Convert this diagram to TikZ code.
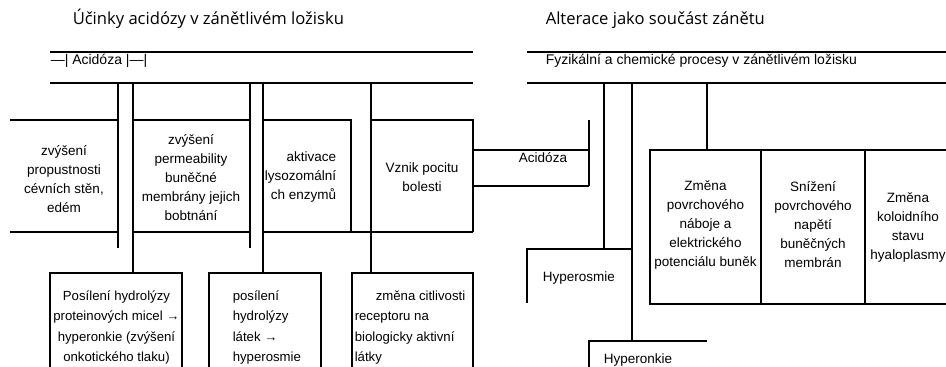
\documentclass[tikz,border=0pt]{standalone}
\usepackage{fontspec}
\setmainfont{Liberation Sans}
\newfontfamily\titlefont{Open Sans}
\begin{document}
\begin{tikzpicture}[x=1pt,y=-1pt,line width=1.5pt,
  hdr/.style={inner sep=0pt,anchor=west,font=\fontsize{14}{19}\selectfont},
  txt/.style={inner sep=0pt,font=\fontsize{13.5}{19}\selectfont,align=center},
  txtb/.style={inner sep=0pt,font=\fontsize{13.2}{20.5}\selectfont},
  ttl/.style={inner sep=0pt,anchor=west,font=\titlefont\fontsize{16.6}{20}\selectfont}]
\clip (0,0) rectangle (946,367);
\fill[white] (0,0) rectangle (946,367);
% titles
\node[ttl] (t1) at (72,19) {Účinky acidózy v zánětlivém ložisku};
\node[ttl] (t2) at (545,20) {Alterace jako součást zánětu};
% headers
\draw (50,52) -- (473,52); \draw (50,83) -- (473,83);
\draw (527,52) -- (946,52); \draw (527,83) -- (946,83);
\node[hdr] (h1) at (50,61) {—| Acidóza |—|};
\node[hdr] (h2) at (545,61) {Fyzikální a chemické procesy v zánětlivém ložisku};
% verticals
\draw (118,83) -- (118,248);
\draw (133,83) -- (133,273);
\draw (250,83) -- (250,248);
\draw (263,83) -- (263,273);
\draw (371,83) -- (371,273);
\draw (604,83) -- (604,249);
\draw (632,83) -- (632,341);
\draw (707,83) -- (707,150);
% row boxes
\draw (10,120) -- (118,120); \draw (10,232) -- (118,232);
\draw (133,120) -- (250,120); \draw (133,232) -- (250,232);
\draw (263,120) -- (351,120) -- (351,232);
\draw (263,232) -- (473,232);
\draw (371,120) -- (473,120) -- (473,232);
\node[txt] (b1) at (64,179) {zvýšení\\propustnosti\\cévních stěn,\\edém};
\node[txt] (b2) at (191,178) {zvýšení\\permeability\\buněčné\\membrány jejich\\bobtnání};
\node[txt,align=right,anchor=east] (b3) at (337,177) {aktivace\\lysozomální\\ch enzymů};
\node[txt] (b4) at (422,177) {Vznik pocitu\\bolesti};
% acidoza
\draw (473,150) -- (589,150); \draw (473,186) -- (589,186); \draw (589,120) -- (589,186);
\node[txt] (ac) at (543,158) {Acidóza};
% bottom boxes
\draw (50,367) -- (50,273) -- (182,273) -- (182,367);
\draw (209,367) -- (209,273) -- (321,273) -- (321,367);
\draw (352,367) -- (352,273) -- (473,273) -- (473,367);
\node[txtb,align=center] (ba) at (116.5,327.5) {Posílení hydrolýzy\\proteinových micel →\\hyperonkie (zvýšení\\onkotického tlaku)};
\node[txtb,align=left,anchor=west] (bb) at (232,327.5) {posílení\\hydrolýzy\\látek →\\hyperosmie};
\node[txtb,align=left,anchor=west] (bc) at (354,327.5) {\hspace*{21pt}změna citlivosti\\receptoru na\\biologicky aktivní\\látky};
% right boxes
\draw (650,150) rectangle (960,304);
\draw (761,150) -- (761,304); \draw (865,150) -- (865,304);
\node[txt] (r1) at (705.5,225) {Změna\\povrchového\\náboje a\\elektrického\\potenciálu buněk};
\node[txt] (r2) at (813,225) {Snížení\\povrchového\\napětí\\buněčných\\membrán};
\node[txt] (r3) at (908,227) {Změna\\koloidního\\stavu\\hyaloplasmy};
% hyperosmie / hyperonkie
\draw (527,303) -- (527,249) -- (632,249);
\draw (589,367) -- (589,341) -- (707,341);
\node[txt,anchor=west] (ho) at (542,278) {Hyperosmie};
\node[txt,anchor=west] (hk) at (603,360) {Hyperonkie};
\end{tikzpicture}
\end{document}
